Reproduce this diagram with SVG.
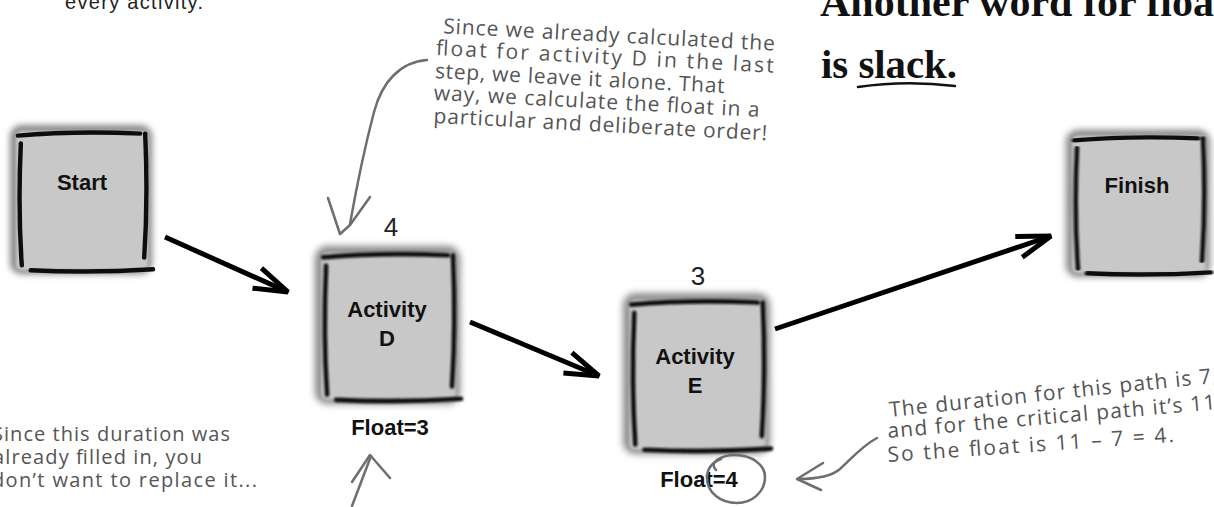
<svg xmlns="http://www.w3.org/2000/svg" width="1214" height="507" viewBox="0 0 1214 507">
<style>
.hand{font-family:"Open Sans","Liberation Sans",sans-serif;font-size:21px;fill:#555}
.hands{font-size:20px}
.lbl{font-family:"Liberation Sans",Arial,sans-serif;font-weight:bold;font-size:22px;fill:#111;text-anchor:middle}
.dur{font-family:"Liberation Sans",Arial,sans-serif;font-size:26px;fill:#222;text-anchor:middle}
.head{font-family:"Liberation Serif","Times New Roman",serif;font-weight:bold;font-size:41px;fill:#111}
.body{font-family:"Liberation Sans",Arial,sans-serif;font-size:20px;fill:#222}
.edge{stroke:#000;stroke-width:5;fill:none;marker-end:url(#ah)}
.note{stroke:#6e6e6e;stroke-width:2.5;fill:none;stroke-linecap:round;stroke-linejoin:round}
.bord{stroke:#111;stroke-width:4.5;fill:none;stroke-linecap:round}
</style>
<defs>
<filter id="halo" x="-20%" y="-20%" width="140%" height="140%"><feGaussianBlur stdDeviation="3.5"/></filter>
<filter id="soft" x="-20%" y="-20%" width="140%" height="140%"><feGaussianBlur stdDeviation="1.5"/></filter>
<filter id="ink" x="-20%" y="-20%" width="140%" height="140%"><feGaussianBlur stdDeviation="0.8"/></filter>
<marker id="ah" markerUnits="userSpaceOnUse" viewBox="-40 -16 46 32" markerWidth="46" markerHeight="32" refX="0" refY="0" orient="auto">
<path d="M-34,-11 L0,0 L-34,11" fill="none" stroke="#000" stroke-width="5" stroke-linejoin="miter" stroke-miterlimit="3"/>
</marker>
<g id="box">
<rect x="3" y="3" width="144" height="154" rx="12" fill="#888" filter="url(#halo)"/>
<rect x="9" y="9" width="134" height="144" rx="6" fill="#c8c8c8" filter="url(#soft)"/>
<g class="bord" filter="url(#ink)">
<path d="M11,14 Q70,9 135,12"/>
<path d="M140,12 Q143,80 139,140"/>
<path d="M24,153 Q85,156 148,152"/>
<path d="M14,22 Q11,90 15,148"/>
</g>
</g>
</defs>
<rect width="1214" height="507" fill="#fff"/>

<text class="body" x="65" y="9" textLength="138">every activity.</text>

<g id="heading">
<text class="head" x="820" y="16" textLength="408" lengthAdjust="spacingAndGlyphs">Another word for float</text>
<text class="head" x="821" y="78" textLength="136" lengthAdjust="spacingAndGlyphs">is slack.</text>
<path d="M858,87 Q905,80 955,86" stroke="#111" stroke-width="2.5" fill="none" stroke-linecap="round"/>
</g>

<g id="note-top" class="hand" transform="rotate(3 437 33)">
<text x="443" y="33" textLength="332">Since we already calculated the</text>
<text x="437" y="55" textLength="338">float for activity D in the last</text>
<text x="437" y="78" textLength="290">step, we leave it alone. That</text>
<text x="437" y="100" textLength="326">way, we calculate the float in a</text>
<text x="438" y="123" textLength="334">particular and deliberate order!</text>
</g>

<g id="note-left" class="hand hands">
<text x="-8" y="441" textLength="238">Since this duration was</text>
<text x="-7" y="464" textLength="209">already filled in, you</text>
<text x="-8" y="487" textLength="265">don’t want to replace it...</text>
</g>

<g id="note-right" class="hand">
<text x="890" y="417" transform="rotate(-6 890 417)" textLength="330">The duration for this path is 7,</text>
<text x="888" y="438" transform="rotate(-5 888 438)" textLength="336">and for the critical path it’s 11.</text>
<text x="888" y="462" transform="rotate(-4 888 462)" textLength="287">So the float is 11 – 7 = 4.</text>
</g>

<g id="node-start">
<use href="#box" transform="translate(7,122) scale(0.987,0.969)"/>
<text class="lbl" x="82" y="190">Start</text>
</g>

<g id="node-d">
<use href="#box" transform="translate(312,243) scale(1.007,1.025)"/>
<text class="dur" x="391" y="236">4</text>
<text class="lbl" x="387" y="317">Activity</text>
<text class="lbl" x="387" y="346">D</text>
<text class="lbl" x="390" y="435">Float=3</text>
</g>

<g id="node-e">
<use href="#box" transform="translate(620,290) scale(1.02,1.044)"/>
<text class="dur" x="698" y="285">3</text>
<text class="lbl" x="695" y="364">Activity</text>
<text class="lbl" x="695" y="393">E</text>
<text class="lbl" x="699" y="487">Float=4</text>
</g>

<g id="node-finish">
<use href="#box" transform="translate(1063,127) scale(1,0.956)"/>
<text class="lbl" x="1137" y="193">Finish</text>
</g>

<g id="connectors">
<path class="edge" d="M165,237 L288,292"/>
<path class="edge" d="M470,322 L599,376"/>
<path class="edge" d="M775,329 L1051,236"/>
<path class="note" d="M427,60 C400,62 382,82 374,112 C364,150 356,190 350,224"/>
<path class="note" d="M328,198 L340,234 L350,225 L370,197"/>
<path class="note" d="M352,506 L371,456"/>
<path class="note" d="M352,482 L370,455 L390,478"/>
<path class="note" d="M877,438 C862,446 852,458 840,469 C832,476 820,479 798,479"/>
<path class="note" d="M823,463 L797,479 L821,490"/>
<path class="note" stroke-width="2" d="M716,470 C708,462 722,455 735,455 C752,455 765,465 765,477 C765,492 752,503 737,503 C720,503 707,492 707,478 C707,468 713,462 721,459"/>
</g>
</svg>
